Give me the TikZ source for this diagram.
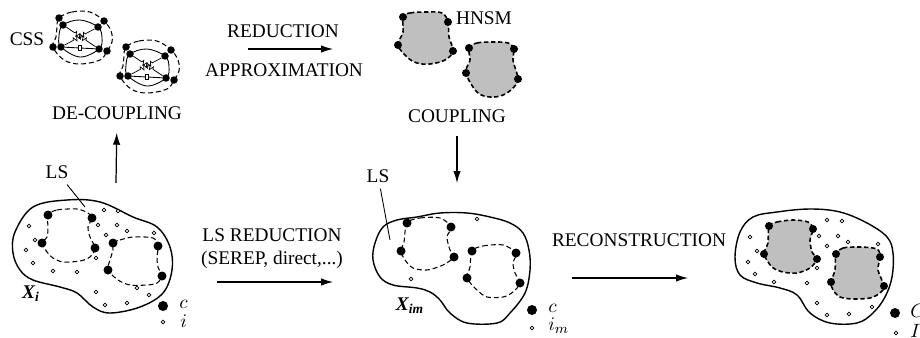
\documentclass[tikz,border=0pt]{standalone}
\usepackage{fontspec}
\setmainfont{Liberation Serif}
\usetikzlibrary{arrows.meta,decorations.pathmorphing}

% one coupled substructure: joints, spring, damper and its boundary
\tikzset{
  cssunit/.pic={
    \draw[lsloop] plot[smooth cycle, tension=0.6] coordinates {(59,18) (72,12) (90,12) (104,21) (111,31) (112,42) (107,51) (100,60) (80,64) (64,60) (53,47) (56,37) (57,27)};
    \draw[line width=0.5pt] plot[smooth cycle, tension=0.6] coordinates {(63,25) (80,20) (98,27) (102,38) (99,49) (80,57) (61,47) (59,36)};
    \node[joint, minimum size=0.15cm] (-o1) at (59,18) {};
    \node[joint, minimum size=0.15cm] (-o2) at (104,21) {};
    \node[joint, minimum size=0.15cm] (-o3) at (107,51) {};
    \node[joint, minimum size=0.15cm] (-o4) at (53,47) {};
    \node[joint, minimum size=0.15cm] (-i1) at (63,25) {};
    \node[joint, minimum size=0.15cm] (-i2) at (98,27) {};
    \node[joint, minimum size=0.15cm] (-i3) at (99,49) {};
    \node[joint, minimum size=0.15cm] (-i4) at (61,47) {};
    \draw[spring] (-i4) -- (-i2);
    \draw[spring] (-i1) -- (-i3);
    \draw[line width=0.5pt] (-i4) -- (-i3);
    \node[damper] (-d) at (80,48) {};
  }
}

\begin{document}
\begin{tikzpicture}[x=0.02cm, y=-0.02cm,
    every node/.style={font=\fontsize{11}{13}\selectfont},
    joint/.style={circle, fill=black, inner sep=0pt, minimum size=0.18cm},
    freedof/.style={circle, draw, fill=white, inner sep=0pt, minimum size=0.075cm, line width=0.4pt},
    dofname/.style={anchor=west, inner sep=0pt},
    flow/.style={-{Latex[length=2.4mm,width=1.5mm]}, line width=0.7pt},
    lsloop/.style={dash pattern=on 2.8pt off 1.7pt, line width=0.6pt},
    hnsm/.style={fill=gray!50, dash pattern=on 2.5pt off 1.5pt, line width=0.9pt},
    outline/.style={line width=0.8pt},
    pointer/.style={line width=0.5pt},
    spring/.style={decorate, decoration={zigzag, amplitude=1.3pt, segment length=2.2pt, pre length=0.2cm, post length=0.2cm}, line width=0.4pt},
    damper/.style={draw, fill=white, inner sep=0pt, minimum width=0.06cm, minimum height=0.11cm, line width=0.4pt}
  ]
  \clip (0,0) rectangle (920,338);

  % ---- top row: substructures and reduced models
  \node (css) at (27,39) {CSS};
  \pic (cssa) at (0,0) {cssunit};
  \pic (cssb) at (67,29) {cssunit};
  \node (decoup) at (117,113) {DE-COUPLING};

  \node (red) at (283,31) {REDUCTION};
  \node (approx) at (284,70) {APPROXIMATION};
  \coordinate (redL) at (248,49);
  \coordinate (redR) at (333,49);
  \draw[flow] (redL) -- (redR);

  \draw[hnsm] plot[smooth cycle, tension=0.6] coordinates {(403,17) (410,13) (427,12) (442,13) (448,22) (449,37) (453,51) (445,60) (430,64) (417,63) (407,57) (398,45) (403,32)};
  \draw[hnsm] plot[smooth cycle, tension=0.6] coordinates {(469,48) (477,43) (493,42) (508,43) (514,49) (513,60) (518,79) (513,88) (503,95) (490,97) (477,92) (466,73) (470,60)};
  \foreach \p [count=\k] in {(403,17),(448,22),(453,51),(398,45),(469,48),(514,49),(518,79),(466,73)}
    \node[joint, minimum size=0.16cm] (hj\k) at \p {};
  \node (hnsmlbl) at (484,18) {HNSM};
  \node (coup) at (457,116) {COUPLING};

  \coordinate (dcFoot) at (116,183);
  \draw[flow, shorten >=4pt] (dcFoot) -- (decoup);
  \coordinate (cpFoot) at (457,183);
  \draw[flow, shorten <=4pt] (coup) -- (cpFoot);

  % ---- full model X_i
  \draw[outline] plot[smooth cycle, tension=0.6] coordinates {(13,253) (15,232) (33,207) (67,200) (100,202) (133,217) (157,227) (170,247) (172,270) (163,293) (140,307) (110,313) (93,307) (77,293) (60,287) (33,280) (20,270)};
  \draw[lsloop] plot[smooth cycle, tension=0.5] coordinates {(48,215) (57,210) (77,209) (88,213) (92,218) (88,227) (90,237) (95,248) (90,257) (80,261) (63,262) (53,258) (47,252) (42,243) (47,237) (48,228)};
  \draw[lsloop] plot[smooth cycle, tension=0.5] coordinates {(113,243) (120,240) (133,237) (153,238) (158,246) (157,257) (158,267) (162,276) (157,283) (147,285) (130,285) (118,280) (108,270) (110,260) (113,250)};
  \foreach \p [count=\k] in {(48,215),(92,218),(95,248),(42,243),(113,243),(158,246),(162,276),(108,270)}
    \node[joint] (aj\k) at \p {};
  \foreach \p [count=\k] in {(104,210),(118,211),(29,226),(98,225),(117,225),(106,235),(127,231),(154,233),(35,240),(26,250),(96,258),(33,263),(53,271),(77,272),(96,292),(105,305),(127,303),(137,288),(149,295)}
    \node[freedof] (ai\k) at \p {};
  \node (lsA) at (57,172) {LS};
  \coordinate (lsAtip) at (85,207);
  \draw[pointer] (lsA) -- (lsAtip);
  \node (xi) at (31,294) {\bfseries\itshape X\textsubscript{i}};
  \node[joint, minimum size=0.2cm] (cA) at (163,306) {};
  \node[freedof] (iA) at (163,322) {};
  \node[dofname] (cAlbl) at (179,304) {$c$};
  \node[dofname] (iAlbl) at (180,321) {$i$};

  \node[align=center] (lsred) at (272,249) {LS REDUCTION\\(SEREP, direct,...)};
  \coordinate (lsL) at (217,282);
  \coordinate (lsR) at (333,282);
  \draw[flow] (lsL) -- (lsR);

  % ---- reduced model X_im
  \draw[outline] plot[smooth cycle, tension=0.6] coordinates {(375,243) (383,227) (397,220) (417,217) (440,213) (467,213) (490,217) (510,223) (523,233) (529,250) (530,270) (525,293) (510,313) (497,323) (467,323) (450,313) (440,300) (430,292) (417,288) (393,285) (380,277) (373,260)};
  \draw[lsloop] plot[smooth cycle, tension=0.5] coordinates {(407,223) (420,218) (440,218) (451,227) (447,237) (450,250) (454,257) (443,265) (427,270) (413,268) (405,260) (401,251) (404,242)};
  \draw[lsloop] plot[smooth cycle, tension=0.5] coordinates {(472,251) (483,246) (503,245) (516,253) (513,263) (515,273) (520,283) (513,292) (503,297) (487,297) (477,290) (467,278) (470,267)};
  \foreach \p [count=\k] in {(407,223),(451,227),(454,257),(401,251),(472,251),(516,253),(520,283),(467,278)}
    \node[joint] (bj\k) at \p {};
  \node[freedof] (bi1) at (477,219) {};
  \node[freedof] (bi2) at (411,279) {};
  \node (lsB) at (378,176) {LS};
  \coordinate (lsBtip) at (390,240);
  \draw[pointer] (lsB) -- (lsBtip);
  \node (xim) at (410,306) {\bfseries\itshape X\textsubscript{im}};
  \node[joint, minimum size=0.2cm] (cB) at (532,310) {};
  \node[freedof] (iB) at (532,328) {};
  \node[dofname] (cBlbl) at (548,308) {$c$};
  \node[dofname] (iBlbl) at (548,326) {$i_m$};

  \node (recon) at (639,240) {RECONSTRUCTION};
  \coordinate (reL) at (572,278);
  \coordinate (reR) at (688,278);
  \draw[flow] (reL) -- (reR);

  % ---- reconstructed model
  \draw[outline] plot[smooth cycle, tension=0.6] coordinates {(735,257) (740,232) (753,217) (777,212) (810,209) (840,212) (867,223) (887,237) (893,253) (892,277) (885,297) (873,313) (857,323) (830,323) (810,313) (797,295) (780,288) (757,283) (740,275)};
  \draw[hnsm] plot[smooth cycle, tension=0.5] coordinates {(769,226) (777,222) (793,220) (808,222) (813,229) (810,240) (812,252) (817,259) (810,268) (797,273) (783,272) (772,267) (764,254) (768,243)};
  \draw[hnsm] plot[smooth cycle, tension=0.5] coordinates {(836,254) (843,248) (860,247) (877,249) (880,257) (878,270) (884,286) (880,293) (870,298) (853,299) (840,297) (833,290) (831,282) (835,270)};
  \foreach \p [count=\k] in {(769,226),(813,229),(817,259),(764,254),(836,254),(880,257),(884,286),(831,282)}
    \node[joint, minimum size=0.16cm] (rj\k) at \p {};
  \foreach \p [count=\k] in {(827,220),(842,221),(819,236),(838,236),(848,242),(878,244),(750,237),(757,251),(827,246),(748,262),(755,274),(774,282),(807,283),(817,268),(817,303),(827,315),(849,314),(872,307)}
    \node[freedof] (ri\k) at \p {};
  \node[joint, minimum size=0.2cm] (cC) at (895,313) {};
  \node[freedof] (iC) at (896,333) {};
  \node[dofname] (cClbl) at (910,311) {$C$};
  \node[dofname] (iClbl) at (910,331) {$I$};
\end{tikzpicture}
\end{document}
